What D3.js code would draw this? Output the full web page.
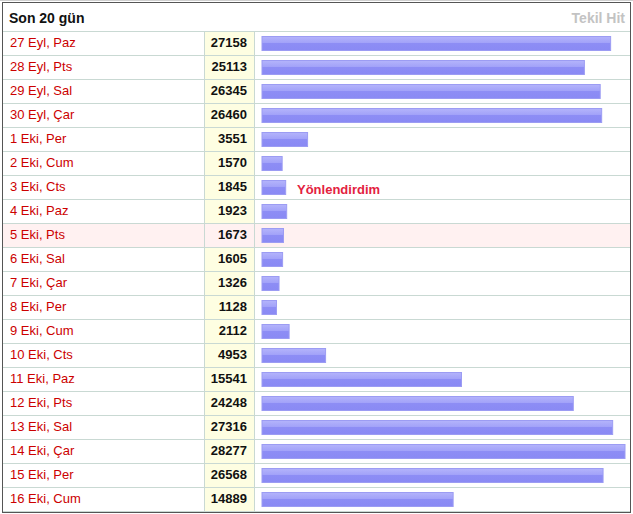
<!doctype html>
<html>
<head>
<meta charset="utf-8"/>
<script src="https://cdnjs.cloudflare.com/ajax/libs/d3/7.8.5/d3.min.js"></script>
<style>
  body { margin: 0; background: #fff; }
  text { font-family: "Liberation Sans", Arial, sans-serif; font-size: 13px; }
  .lbl { fill: #cc0000; }
  .num { font-weight: bold; fill: #111; text-anchor: end; }
  .grid { stroke: #c9d9d3; stroke-width: 1px; }
</style>
</head>
<body>
<svg width="633" height="514"></svg>
<script>
var days = ["27 Eyl, Paz", "28 Eyl, Pts", "29 Eyl, Sal", "30 Eyl, Çar", "1 Eki, Per",
            "2 Eki, Cum", "3 Eki, Cts", "4 Eki, Paz", "5 Eki, Pts", "6 Eki, Sal",
            "7 Eki, Çar", "8 Eki, Per", "9 Eki, Cum", "10 Eki, Cts", "11 Eki, Paz",
            "12 Eki, Pts", "13 Eki, Sal", "14 Eki, Çar", "15 Eki, Per", "16 Eki, Cum"];
var hits = [27158, 25113, 26345, 26460, 3551, 1570, 1845, 1923, 1673, 1605,
            1326, 1128, 2112, 4953, 15541, 24248, 27316, 28277, 26568, 14889];
var title = "Son 20 gün";
var columnTitle = "Tekil Hit";
var noteDay = "3 Eki, Cts";
var noteText = "Yönlendirdim";
var markedDay = "5 Eki, Pts";

var svg = d3.select("svg");

var y = d3.scaleBand().domain(days).range([31, 511]);
var x = d3.scaleLinear().domain([0, d3.max(hits)]).range([262, 625]);

var defs = svg.append("defs");
var grad = defs.append("linearGradient").attr("id", "barGrad")
  .attr("x1", 0).attr("y1", 0).attr("x2", 0).attr("y2", 1);
grad.append("stop").attr("offset", "0%").attr("stop-color", "#b4b4fb");
grad.append("stop").attr("offset", "45%").attr("stop-color", "#a2a2f9");
grad.append("stop").attr("offset", "50%").attr("stop-color", "#8d8df5");
grad.append("stop").attr("offset", "100%").attr("stop-color", "#8a8af4");

// light line above the frame
svg.append("line").attr("x1", 0).attr("x2", 633).attr("y1", 0.5).attr("y2", 0.5)
  .style("stroke", "#d0d0d0");

// number column background
svg.append("rect").attr("x", 205).attr("y", 31).attr("width", 49).attr("height", 480)
  .style("fill", "#fefee2");

// highlighted row
svg.append("rect").attr("x", 3).attr("y", y(markedDay)).attr("width", 627).attr("height", y.bandwidth())
  .style("fill", "#fff1f1");

// grid lines
svg.selectAll("line.h").data(d3.range(days.length + 1)).enter().append("line")
  .attr("class", "grid")
  .attr("x1", 3).attr("x2", 630)
  .attr("y1", i => 31 + i * y.step() + 0.5).attr("y2", i => 31 + i * y.step() + 0.5);
svg.selectAll("line.v").data([204.5, 254.5]).enter().append("line")
  .attr("class", "grid")
  .attr("x1", d => d).attr("x2", d => d).attr("y1", 31).attr("y2", 511);

// outer frame
svg.append("rect").attr("x", 2.5).attr("y", 2.5).attr("width", 628).attr("height", 510)
  .style("fill", "none").style("stroke", "#555");

// header
svg.append("text").attr("x", 9).attr("y", 23).style("font-size", "14px")
  .style("font-weight", "bold").style("fill", "#111").text(title);
svg.append("text").attr("x", 625).attr("y", 23).style("font-size", "14px")
  .style("font-weight", "bold").style("fill", "#c3c3c3")
  .style("text-anchor", "end").text(columnTitle);

var rows = svg.selectAll("g.row").data(days.map((d, i) => ({day: d, hit: hits[i]})))
  .enter().append("g").attr("class", "row")
  .attr("transform", d => "translate(0," + y(d.day) + ")");

rows.append("text").attr("class", "lbl").attr("x", 10).attr("y", 16).text(d => d.day);
rows.append("text").attr("class", "num").attr("x", 247).attr("y", 16).text(d => d.hit);
rows.append("rect")
  .attr("x", x(0)).attr("y", 5.5)
  .attr("width", d => x(d.hit) - x(0)).attr("height", 14)
  .style("fill", "url(#barGrad)").style("stroke", "#9c9cf3").style("stroke-width", 1);

svg.append("text").attr("x", 297).attr("y", y(noteDay) + 18.5)
  .style("font-weight", "bold").style("fill", "#e3223f").text(noteText);
</script>
</body>
</html>
